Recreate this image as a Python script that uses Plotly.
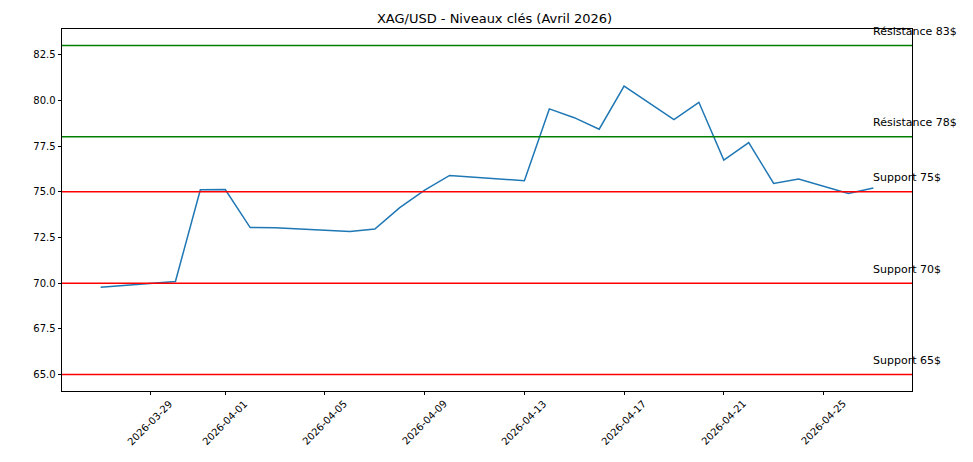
import plotly.graph_objects as go

# Cours XAG/USD (sommets)
dates = [
    "2026-03-27", "2026-03-30", "2026-03-31", "2026-04-01", "2026-04-02",
    "2026-04-03", "2026-04-06", "2026-04-07", "2026-04-08", "2026-04-09",
    "2026-04-10", "2026-04-13", "2026-04-14", "2026-04-15", "2026-04-16",
    "2026-04-17", "2026-04-19", "2026-04-20", "2026-04-21", "2026-04-22",
    "2026-04-23", "2026-04-24", "2026-04-26", "2026-04-27",
]
prix = [
    69.77, 70.09, 75.11, 75.12, 73.04,
    73.03, 72.82, 72.96, 74.13, 75.09,
    75.89, 75.60, 79.53, 79.05, 78.42,
    80.78, 78.94, 79.89, 76.73, 77.69,
    75.45, 75.69, 74.91, 75.20,
]

# Niveaux clés
niveaux = [83, 78, 75, 70, 65]
noms = ["Résistance 83$", "Résistance 78$", "Support 75$", "Support 70$", "Support 65$"]
couleurs = ["green", "green", "red", "red", "red"]

# Graduations de l'axe des dates
ticks_x = ["2026-03-29", "2026-04-01", "2026-04-05", "2026-04-09",
           "2026-04-13", "2026-04-17", "2026-04-21", "2026-04-25"]
ticks_y = [65.0, 67.5, 70.0, 72.5, 75.0, 77.5, 80.0, 82.5]

FONT = "DejaVu Sans"

fig = go.Figure()

fig.add_trace(
    go.Scatter(
        x=dates,
        y=prix,
        mode="lines",
        line=dict(color="#1f77b4", width=1.5),
        showlegend=False,
        hoverinfo="x+y",
    )
)

# Lignes horizontales des niveaux + étiquettes
for niv, nom, coul in zip(niveaux, noms, couleurs):
    fig.add_shape(
        type="line", xref="paper", yref="y",
        x0=0, x1=1, y0=niv, y1=niv,
        line=dict(color=coul, width=1.5),
        layer="above",
    )
    fig.add_annotation(
        x=dates[-1], y=niv + 0.3, xref="x", yref="y",
        text=nom, showarrow=False,
        xanchor="left", yanchor="bottom",
        font=dict(family=FONT, size=11, color="black"),
        xshift=-2,
    )

# Étiquettes des dates, tournées à 45°, centrées sur la graduation
for t in ticks_x:
    fig.add_annotation(
        x=t, y=-0.088, xref="x", yref="paper",
        text=t, showarrow=False, textangle=-45,
        xanchor="center", yanchor="middle",
        font=dict(family=FONT, size=10, color="black"),
    )

fig.update_xaxes(
    type="date",
    range=["2026-03-25 10:48", "2026-04-28 13:12"],
    tickvals=ticks_x,
    showticklabels=False,
    ticks="outside", ticklen=3.5, tickcolor="black", tickwidth=0.8,
    showgrid=False, zeroline=False,
    showline=True, linecolor="black", linewidth=0.8, mirror=True,
)
fig.update_yaxes(
    range=[64.1, 83.9],
    tickvals=ticks_y,
    tickformat=".1f",
    ticks="outside", ticklen=3.5, tickcolor="black", tickwidth=0.8,
    tickfont=dict(family=FONT, size=10, color="black"),
    showgrid=False, zeroline=False,
    showline=True, linecolor="black", linewidth=0.8, mirror=True,
)

# la page ajoute ~8 px de marge : on compense dans les marges
fig.update_layout(
    width=973,
    height=462,
    title=dict(
        text="XAG/USD - Niveaux clés (Avril 2026)",
        x=0.5, xanchor="center", y=0.978, yanchor="middle",
        font=dict(family=FONT, size=13, color="black"),
    ),
    font=dict(family=FONT, size=10, color="black"),
    plot_bgcolor="white",
    paper_bgcolor="white",
    margin=dict(t=21, b=79, l=54, r=69),
    showlegend=False,
)

fig.write_html("out.html")
